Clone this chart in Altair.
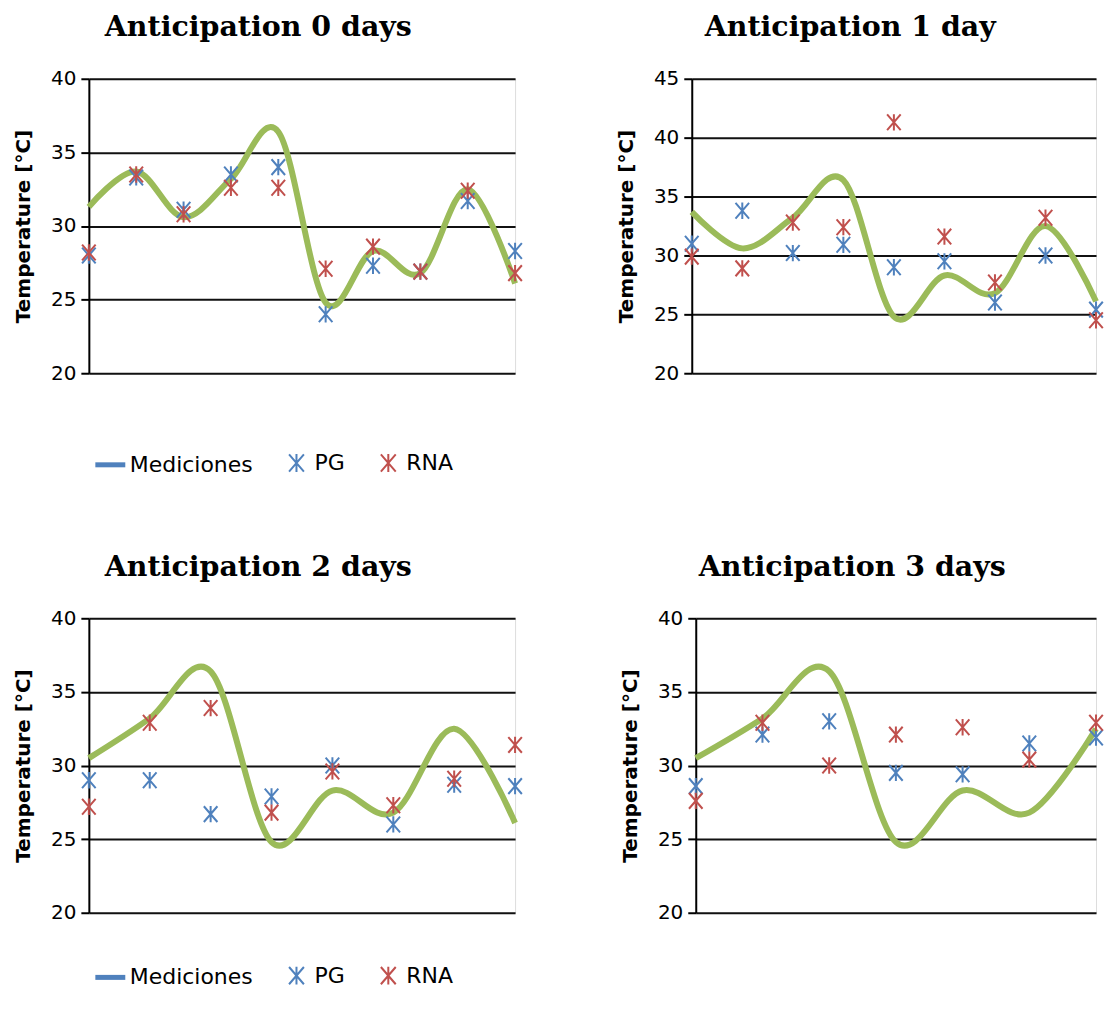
import altair as alt
import pandas as pd

# ---- data ----
titles = ["Anticipation 0 days", "Anticipation 1 day", "Anticipation 2 days", "Anticipation 3 days"]
series_names = ["Mediciones", "PG", "RNA"]

meas_0 = [31.3, 33.7, 30.6, 33.2, 36.4, 24.8, 28.3, 26.8, 32.5, 26.1]
pg_0 = [28.0, 33.3, 31.1, 33.5, 34.0, 24.0, 27.3, 26.9, 31.7, 28.3]
rna_0 = [28.2, 33.5, 30.8, 32.6, 32.6, 27.1, 28.6, 26.9, 32.4, 26.8]

meas_1 = [33.7, 30.6, 33.2, 36.4, 24.8, 28.3, 26.8, 32.5, 26.1]
pg_1 = [31.0, 33.8, 30.2, 30.9, 29.0, 29.5, 26.0, 30.0, 25.4]
rna_1 = [29.9, 28.9, 32.8, 32.4, 41.3, 31.6, 27.7, 33.2, 24.5]

meas_2 = [30.5, 33.2, 36.4, 24.8, 28.3, 26.8, 32.5, 26.1]
pg_2 = [29.0, 29.0, 26.7, 27.9, 30.0, 26.0, 28.7, 28.6]
rna_2 = [27.2, 32.9, 33.9, 26.8, 29.6, 27.3, 29.1, 31.4]

meas_3 = [30.5, 33.2, 36.4, 24.8, 28.3, 26.8, 32.5]
pg_3 = [28.6, 32.1, 33.0, 29.5, 29.4, 31.5, 31.9]
rna_3 = [27.6, 32.9, 30.0, 32.1, 32.6, 30.4, 32.9]

y_max = [40, 45, 40, 40]

# ---- styling ----
GREEN = "#9BBB59"
BLUE = "#4F81BD"
RED = "#C0504D"
LINE_SYM = "M-1.25,0L1.25,0"
STAR = "M-0.62,-0.72L0.62,0.72M-0.62,0.72L0.62,-0.72M0,-0.75L0,0.75"
SANS = "DejaVu Sans"


def panel(title, meas, pg, rna, ymax, width, legend_y):
    n = len(meas)
    days = list(range(n))
    line_df = pd.DataFrame({"day": days, "temp": meas})
    pts_df = pd.DataFrame({
        "day": days + days,
        "temp": pg + rna,
        "series": ["PG"] * n + ["RNA"] * n,
    })
    x = alt.X("day:Q", scale=alt.Scale(domain=[0, n - 1], nice=False, zero=False), axis=None)
    y = alt.Y(
        "temp:Q",
        scale=alt.Scale(domain=[20, ymax], nice=False, zero=False),
        axis=alt.Axis(
            values=list(range(20, ymax + 1, 5)),
            title="Temperature [°C]",
            titleFont=SANS, titleFontSize=20, titleFontWeight="bold", titleColor="black",
            titlePadding=17,
            labelFont=SANS, labelFontSize=20, labelColor="black", labelPadding=5,
            tickSize=8, tickColor="black", tickWidth=2,
            domainColor="black", domainWidth=2,
            grid=True, gridColor="#111111", gridWidth=2,
        ),
    )
    leg = alt.Legend(
        title=None, orient="none", direction="horizontal",
        legendX=7, legendY=legend_y,
        labelFont=SANS, labelFontSize=22, labelColor="black", labelOffset=5,
        symbolSize=576, columnPadding=30, symbolOpacity=1,
    )
    line = alt.Chart(line_df).mark_line(
        interpolate="cardinal", color=GREEN, strokeWidth=6
    ).encode(x=x, y=y)
    pts = alt.Chart(pts_df).mark_point(filled=False, size=480, opacity=1).encode(
        x=x, y=y,
        color=alt.Color("series:N", scale=alt.Scale(domain=series_names, range=[BLUE, BLUE, RED]), legend=leg),
        shape=alt.Shape("series:N", scale=alt.Scale(domain=series_names, range=[LINE_SYM, STAR, STAR]), legend=leg),
        strokeWidth=alt.StrokeWidth("series:N", scale=alt.Scale(type="ordinal", domain=series_names, range=[5, 2, 2]), legend=leg),
    )
    return alt.layer(line, pts).properties(
        width=width, height=295,
        title=alt.Title(title, font="DejaVu Serif", fontSize=28.5, fontWeight="bold",
                        color="black", anchor="middle", frame="bounds", offset=27, dx=-12),
    )


p0 = panel(titles[0], meas_0, pg_0, rna_0, y_max[0], 427, 372)
p1 = panel(titles[1], meas_1, pg_1, rna_1, y_max[1], 405, 372)
p2 = panel(titles[2], meas_2, pg_2, rna_2, y_max[2], 427, 345)
p3 = panel(titles[3], meas_3, pg_3, rna_3, y_max[3], 401, 345)

row1 = alt.hconcat(p0, p1, spacing=88)
row2 = alt.hconcat(p2, p3, spacing=92)

chart = alt.vconcat(row1, row2, spacing=76.5).resolve_scale(
    y="independent", x="independent", color="independent", shape="independent", strokeWidth="independent"
).resolve_legend(
    color="independent", shape="independent", strokeWidth="independent"
).properties(
    padding={"left": 5, "top": 4, "right": 0, "bottom": 0}
).configure_view(
    stroke="#BFBFBF", strokeWidth=1.5
).configure(background="white")

chart.save("out.html", embed_options={"renderer": "svg", "actions": False})
